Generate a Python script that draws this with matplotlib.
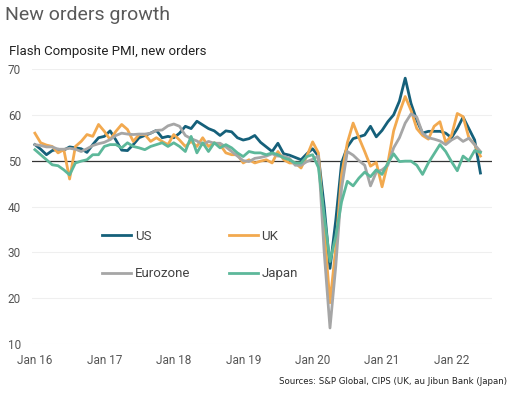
import numpy as np
import matplotlib
matplotlib.use("Agg")
import matplotlib.pyplot as plt

# monthly, Jan 2016 .. Jun 2022
months = np.arange(78)
tick_pos = [0, 12, 24, 36, 48, 60, 72]
tick_labels = ["Jan 16", "Jan 17", "Jan 18", "Jan 19", "Jan 20", "Jan 21", "Jan 22"]

us = [53.5, 52.5, 51.3, 52.2, 52.5, 52.3, 53.0, 52.8, 52.6, 51.8,
      53.5, 55.0, 55.3, 56.5, 54.5, 52.3, 52.2, 53.5, 55.0, 55.5,
      56.0, 56.6, 55.0, 55.3, 55.0, 56.0, 57.5, 57.0, 58.6, 57.8,
      57.0, 56.5, 55.5, 56.5, 56.3, 55.0, 54.5, 54.8, 55.5, 54.0,
      53.0, 52.0, 53.8, 51.5, 51.2, 50.7, 50.2, 51.5, 52.6, 51.0,
      40.0, 26.5, 37.0, 49.5, 53.0, 54.8, 55.2, 55.6, 57.5, 55.2,
      56.6, 58.5, 60.0, 63.0, 68.0, 62.5, 58.8, 56.0, 56.4, 56.4,
      56.4, 56.0, 55.0, 57.0, 59.5, 57.0, 54.5, 47.3]

uk = [56.0, 53.9, 53.4, 53.1, 51.7, 52.4, 46.0, 53.1, 54.2, 55.7,
      55.3, 57.9, 56.4, 54.6, 56.4, 57.9, 56.8, 54.2, 55.7, 55.7,
      54.2, 55.0, 54.2, 53.5, 55.7, 54.5, 53.1, 54.2, 53.1, 55.0,
      53.1, 53.9, 53.5, 51.7, 51.3, 51.3, 49.5, 50.2, 49.5, 49.9,
      50.2, 49.5, 52.0, 50.2, 49.5, 49.5, 48.4, 51.0, 54.1, 51.7,
      35.0, 19.0, 31.0, 47.0, 53.9, 58.2, 55.0, 52.0, 48.8, 49.6,
      44.3, 49.5, 56.5, 60.5, 64.0, 61.0, 57.0, 55.5, 54.7, 57.5,
      58.5, 54.0, 55.5, 60.3, 59.6, 55.0, 53.5, 51.0]

eurozone = [53.5, 53.3, 53.0, 53.0, 52.5, 52.5, 52.7, 52.5, 52.0, 52.6,
            53.3, 53.7, 54.0, 54.6, 55.5, 56.0, 55.8, 55.7, 55.8, 55.8,
            56.0, 56.6, 56.7, 57.6, 58.0, 57.5, 55.5, 54.8, 54.3, 53.5,
            54.2, 53.8, 53.8, 53.0, 52.0, 51.0, 50.0, 49.8, 50.5, 50.7,
            51.0, 51.5, 51.0, 51.0, 50.5, 49.0, 49.0, 49.8, 50.3, 51.0,
            30.0, 13.5, 27.0, 44.0, 52.0, 51.2, 50.0, 49.0, 44.5, 47.5,
            48.0, 49.0, 52.8, 55.0, 58.2, 60.2, 59.5, 56.0, 55.0, 54.7,
            54.3, 53.5, 54.5, 55.2, 54.2, 54.9, 53.5, 52.0]

japan = [52.4, 51.3, 50.2, 49.1, 48.9, 48.0, 46.9, 49.5, 49.9, 50.2,
         51.3, 51.3, 53.1, 53.5, 53.5, 52.8, 53.9, 53.1, 52.8, 52.4,
         53.1, 53.5, 53.9, 53.1, 53.9, 53.1, 52.0, 55.3, 51.7, 53.9,
         52.0, 53.9, 52.8, 53.5, 52.8, 51.7, 50.9, 52.0, 51.7, 51.7,
         51.3, 51.7, 51.3, 50.6, 50.2, 49.5, 49.5, 50.9, 51.3, 48.5,
         38.0, 28.0, 33.5, 41.0, 45.5, 44.5, 46.2, 47.5, 46.5, 48.0,
         47.0, 49.5, 51.5, 49.8, 49.9, 49.9, 49.0, 47.0, 49.5, 51.5,
         53.5, 52.0, 49.8, 47.8, 51.0, 50.0, 52.2, 51.8]

series = [("US", us, "#15607a"), ("UK", uk, "#f2a94f"),
          ("Eurozone", eurozone, "#a6a6a6"), ("Japan", japan, "#5db89a")]

plt.rcParams["font.family"] = ["Roboto", "DejaVu Sans"]

fig = plt.figure(figsize=(5.15, 3.99), dpi=100)
ax = fig.add_axes([32 / 515, 1 - 344 / 399, 460 / 515, 275 / 399])

for y in [10, 20, 30, 40, 60, 70]:
    ax.axhline(y, color="#efefef", lw=0.8, zorder=0)
ax.axhline(50, color="#333333", lw=0.9, zorder=1)

lines = {}
for name, vals, col in series:
    lines[name], = ax.plot(months, vals, color=col, lw=2.0, label=name,
                           zorder=2, solid_joinstyle="round")

ax.set_xlim(-0.5, 79)
ax.set_ylim(10, 70)
ax.set_yticks([10, 20, 30, 40, 50, 60, 70])
ax.set_xticks(tick_pos)
ax.set_xticklabels(tick_labels)
ax.tick_params(length=0, labelsize=8.5, labelcolor="#555555")
ax.tick_params(axis="y", pad=8)
ax.tick_params(axis="x", pad=7)
for s in ax.spines.values():
    s.set_visible(False)

# legend filled column-wise, so order gives rows US/UK and Eurozone/Japan
order = ["US", "Eurozone", "UK", "Japan"]
ax.legend([lines[n] for n in order], order, loc="upper left",
          bbox_to_anchor=(0.152, 0.415), ncol=2, frameon=False, fontsize=9.5,
          handlelength=2.2, handletextpad=0.3, columnspacing=2.9,
          labelspacing=1.85, borderpad=0, borderaxespad=0,
          labelcolor="#444444")

fig.text(5 / 515, 1 - 15 / 399, "New orders growth", fontsize=14,
         color="#595959", va="center", ha="left")
fig.text(9 / 515, 1 - 51 / 399, "Flash Composite PMI, new orders",
         fontsize=9.5, color="#222222", va="center", ha="left")
fig.text(507 / 515, 1 - 381 / 399,
         "Sources: S&P Global, CIPS (UK, au Jibun Bank (Japan)",
         fontsize=6.2, color="#222222", va="center", ha="right",
         family=["Liberation Sans Narrow", "DejaVu Sans"])

fig.savefig("out.png", dpi=100, facecolor="white")
